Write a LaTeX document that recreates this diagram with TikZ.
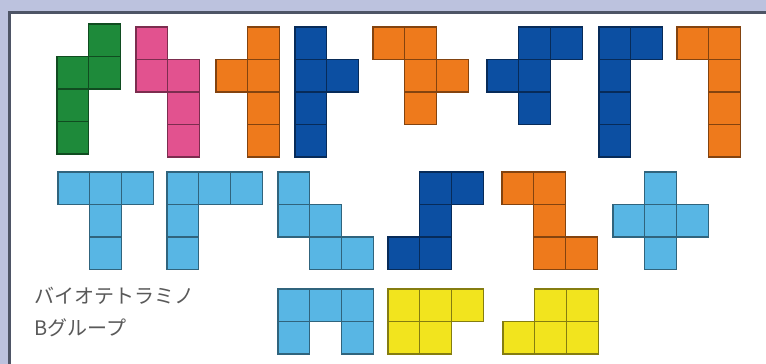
\documentclass[tikz,border=0pt]{standalone}
\usepackage{fontspec}
\newfontfamily\jpfont{Noto Sans CJK JP}

\definecolor{pgreen}{HTML}{1E8A3A}
\definecolor{ppink}{HTML}{E2528F}
\definecolor{porange}{HTML}{EE7A1C}
\definecolor{pblue}{HTML}{0C4FA2}
\definecolor{plight}{HTML}{58B6E4}
\definecolor{pyellow}{HTML}{F2E41E}
\definecolor{frameback}{HTML}{BCC2DE}
\definecolor{frameline}{HTML}{4E5566}

% one piece: colour, left x, top y, list of cells col/row
\newcommand{\pent}[4]{
  \foreach \cx/\cy in {#4} {
    \draw[line width=1.3pt, fill=#1, draw=#1!55!black] ({#2+\cx*31.8},{#3+\cy*32.5}) rectangle ++(31.8,32.5);
  }
}

\begin{document}
\begin{tikzpicture}[x=1pt, y=-1pt]
    \useasboundingbox (0,0) rectangle (766,364);
    \fill[white] (0,0) rectangle (766,364);
    
    % frame
    \fill[frameback] (0,0) rectangle (766,11);
    \fill[frameback] (0,0) rectangle (8,364);
    \draw[frameline, line width=2.2pt] (9.5,364) -- (9.5,12.5) -- (766,12.5);
    
    % first row
    \pent{pgreen}{57}{24}{1/0,1/1,0/1,0/2,0/3}
    \pent{ppink}{136}{27}{0/0,0/1,1/1,1/2,1/3}
    \pent{porange}{216}{27}{1/0,0/1,1/1,1/2,1/3}
    \pent{pblue}{295}{27}{0/0,0/1,0/2,0/3,1/1}
    \pent{porange}{373}{27}{0/0,1/0,1/1,2/1,1/2}
    \pent{pblue}{487}{27}{1/0,2/0,0/1,1/1,1/2}
    \pent{pblue}{599}{27}{0/0,1/0,0/1,0/2,0/3}
    \pent{porange}{677}{27}{0/0,1/0,1/1,1/2,1/3}
    
    % second row
    \pent{plight}{58}{172}{0/0,1/0,2/0,1/1,1/2}
    \pent{plight}{167}{172}{0/0,1/0,2/0,0/1,0/2}
    \pent{plight}{278}{172}{0/0,0/1,1/1,1/2,2/2}
    \pent{pblue}{388}{172}{1/0,2/0,1/1,0/2,1/2}
    \pent{porange}{502}{172}{0/0,1/0,1/1,1/2,2/2}
    \pent{plight}{613}{172}{1/0,0/1,1/1,2/1,1/2}
    
    % third row
    \pent{plight}{278}{289}{0/0,1/0,2/0,0/1,2/1}
    \pent{pyellow}{388}{289}{0/0,1/0,2/0,0/1,1/1}
    \pent{pyellow}{503}{289}{1/0,2/0,0/1,1/1,2/1}
    
    \node[anchor=north west, align=left, inner sep=0pt, text=black!65,
          font=\jpfont\fontsize{20}{32}\selectfont] (grouplabel) at (34,287)
          {バイオテトラミノ\\Bグループ};
\end{tikzpicture}
\end{document}
